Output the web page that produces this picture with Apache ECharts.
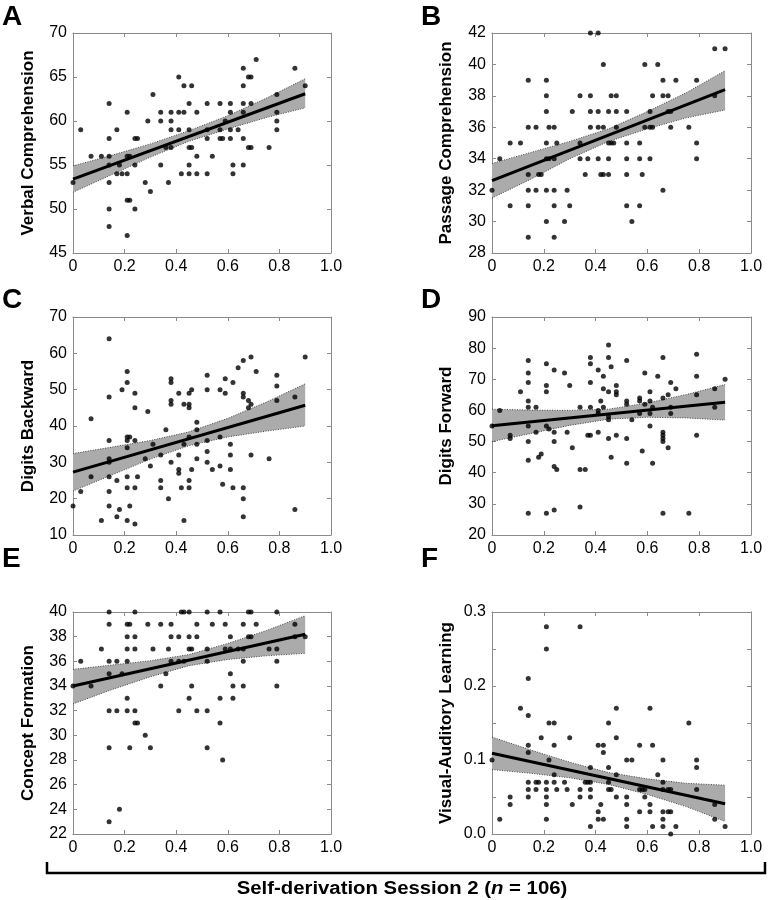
<!DOCTYPE html>
<html><head><meta charset="utf-8">
<script src="https://cdn.jsdelivr.net/npm/echarts@6/dist/echarts.min.js"></script>
<style>html,body{margin:0;padding:0;background:#fff}#c{width:770px;height:900px}</style>
</head><body><div id="c"></div>
<script>
// ---------- data ----------
const xTickValues = [0, 0.2, 0.4, 0.6, 0.8, 1.0];
const bandX = [0, 0.15, 0.3, 0.45, 0.6, 0.75, 0.9];
const fitX = [0, 0.9];

const ptsA = [
[0.00,53],[0.03,59],[0.07,56],[0.11,56],[0.14,62],[0.14,58],[0.14,56],[0.14,55],[0.14,53],[0.14,50],[0.14,48],
[0.17,59],[0.17,54],[0.18,55],[0.19,54],[0.21,61],[0.21,56],[0.21,54],[0.21,51],[0.22,51],[0.21,47],[0.22,56],
[0.24,58],[0.25,58],[0.24,55],[0.24,50],[0.28,53],[0.29,60],[0.30,52],[0.31,63],[0.34,61],[0.34,60],[0.34,55],
[0.36,57],[0.37,53],[0.38,61],[0.38,60],[0.38,59],[0.38,57],[0.41,65],[0.41,61],[0.41,59],[0.42,54],[0.43,64],[0.43,61],
[0.45,62],[0.45,59],[0.45,57],[0.45,55],[0.45,54],[0.46,64],[0.46,57],[0.48,61],[0.48,56],[0.48,54],
[0.52,62],[0.52,59],[0.52,58],[0.52,54],[0.54,56],[0.57,62],[0.57,59],[0.57,58],[0.58,58],[0.59,60],
[0.61,62],[0.61,61],[0.61,59],[0.61,58],[0.62,55],[0.62,54],[0.64,59],
[0.66,66],[0.66,64],[0.66,62],[0.66,61],[0.66,58],[0.66,55],[0.68,65],[0.69,65],[0.69,62],[0.68,57],[0.69,57],
[0.71,67],[0.76,57],[0.79,63],[0.79,61],[0.79,60],[0.79,59],[0.86,66],[0.90,64]
];
const fitA = [53.4, 63.1];
const upperA = [54.9, 56.1, 57.4, 58.9, 60.6, 62.6, 64.8];
const lowerA = [51.9, 53.9, 55.9, 57.7, 59.1, 60.4, 61.5];

const ptsB = [
[0.00,32],[0.03,34],[0.07,35],[0.07,31],[0.11,35],[0.14,39],[0.14,36],[0.14,33],[0.14,32],[0.14,31],[0.14,29],
[0.17,36],[0.17,32],[0.18,33],[0.19,33],[0.21,39],[0.21,38],[0.21,37],[0.21,35],[0.21,34],[0.21,32],[0.21,30],
[0.22,36],[0.22,34],[0.24,36],[0.24,34],[0.24,32],[0.24,31],[0.24,29],[0.25,35],[0.28,30],[0.29,32],[0.30,31],
[0.31,37],[0.34,38],[0.34,35],[0.34,34],[0.36,33],[0.37,34],[0.38,42],[0.38,38],[0.38,37],[0.38,36],
[0.41,42],[0.41,37],[0.41,36],[0.41,34],[0.42,33],[0.43,40],[0.43,36],[0.43,33],
[0.45,37],[0.45,35],[0.45,34],[0.45,33],[0.46,38],[0.46,35],[0.47,35],[0.48,38],[0.48,37],[0.48,36],
[0.52,37],[0.52,35],[0.52,34],[0.52,33],[0.52,31],[0.54,30],[0.57,35],[0.57,34],[0.57,31],[0.58,33],
[0.59,40],[0.59,36],[0.61,37],[0.61,36],[0.61,34],[0.62,38],[0.62,36],[0.64,40],
[0.66,39],[0.66,38],[0.66,32],[0.68,38],[0.68,37],[0.69,37],[0.69,36],[0.71,39],
[0.76,36],[0.79,39],[0.79,35],[0.79,34],[0.86,41],[0.86,38],[0.90,41]
];
const fitB = [32.6, 38.4];
const upperB = [33.7, 34.4, 35.1, 35.9, 37.0, 38.2, 39.6];
const lowerB = [31.5, 32.7, 34.0, 35.1, 35.9, 36.6, 37.1];

const ptsC = [
[0.00,18],[0.03,22],[0.07,42],[0.07,26],[0.11,14],
[0.14,64],[0.14,48],[0.14,36],[0.14,31],[0.14,30],[0.14,26],[0.14,22],[0.14,18],
[0.17,25],[0.17,15],[0.18,17],[0.19,50],
[0.21,55],[0.21,52],[0.21,37],[0.22,37],[0.21,36],[0.21,34],[0.21,26],[0.21,23],[0.21,14],[0.22,18],
[0.24,49],[0.24,45],[0.24,36],[0.24,23],[0.24,13],[0.25,26],
[0.28,31],[0.29,44],[0.30,29],[0.31,35],
[0.34,32],[0.34,25],[0.34,23],[0.36,39],[0.37,20],
[0.38,53],[0.38,52],[0.38,47],[0.38,46],[0.38,30],
[0.41,49],[0.41,32],[0.41,28],[0.41,27],[0.42,23],[0.43,46],[0.43,35],[0.43,14],
[0.45,49],[0.45,46],[0.45,45],[0.45,37],[0.45,25],[0.45,23],[0.46,50],[0.46,28],
[0.48,41],[0.48,39],[0.48,35],[0.48,31],
[0.52,54],[0.52,50],[0.52,36],[0.52,33],[0.52,30],[0.54,28],
[0.57,50],[0.57,37],[0.57,29],[0.58,24],[0.59,53],[0.59,49],
[0.61,35],[0.61,32],[0.61,28],[0.62,52],[0.62,23],[0.64,56],
[0.66,58],[0.66,49],[0.66,48],[0.66,23],[0.66,20],[0.66,15],
[0.68,47],[0.68,45],[0.69,46],[0.69,59],[0.69,32],[0.71,55],
[0.76,31],[0.79,54],[0.79,51],[0.79,47],[0.86,48],[0.86,17],[0.90,59]
];
const fitC = [27.3, 45.7];
const upperC = [32.4, 34.2, 36.0, 38.4, 42.1, 46.6, 51.6];
const lowerC = [22.1, 26.5, 30.9, 34.6, 37.0, 38.6, 40.0];

const ptsD = [
[0.00,55],[0.03,60],[0.07,52],[0.07,51],[0.11,66],
[0.14,76],[0.14,72],[0.14,69],[0.14,63],[0.14,61],[0.14,55],[0.14,50],[0.14,44],[0.14,27],
[0.17,61],[0.17,53],[0.18,45],[0.19,46],
[0.21,75],[0.21,68],[0.21,66],[0.21,55],[0.22,54],[0.21,27],
[0.24,73],[0.24,53],[0.24,50],[0.24,42],[0.25,41],[0.24,28],
[0.28,72],[0.29,53],[0.30,68],[0.31,48],
[0.34,61],[0.34,41],[0.36,41],[0.34,29],[0.37,52],[0.38,52],
[0.38,77],[0.38,75],[0.38,69],[0.38,61],
[0.41,73],[0.41,60],[0.41,59],[0.41,53],[0.42,63],[0.43,71],[0.43,67],[0.43,61],
[0.45,81],[0.45,77],[0.45,66],[0.45,58],[0.45,57],[0.45,51],[0.46,74],[0.46,45],
[0.48,68],[0.48,66],[0.48,65],[0.48,52],
[0.52,76],[0.52,63],[0.52,62],[0.52,51],[0.52,43],[0.54,57],
[0.57,64],[0.57,63],[0.57,59],[0.58,47],[0.59,72],[0.59,62],
[0.61,66],[0.61,63],[0.61,59],[0.61,55],[0.62,61],[0.62,43],[0.64,71],
[0.66,77],[0.66,64],[0.66,53],[0.66,52],[0.66,51],[0.66,50],[0.66,27],
[0.68,65],[0.68,48],[0.69,69],[0.69,61],[0.69,59],[0.71,67],
[0.76,27],[0.79,78],[0.79,71],[0.79,65],[0.79,52],[0.86,67],[0.86,61],[0.90,70]
];
const fitD = [55.1, 62.6];
const upperD = [60.4, 60.1, 60.0, 60.4, 62.4, 65.1, 68.3];
const lowerD = [50.0, 52.6, 55.2, 57.2, 57.8, 57.6, 56.9];

const ptsE = [
[0.00,34],[0.03,36],[0.07,34],[0.11,37],
[0.14,40],[0.14,39],[0.14,36],[0.14,35],[0.14,32],[0.14,29],[0.14,23],
[0.17,36],[0.17,32],[0.18,24],[0.19,35],
[0.21,39],[0.22,39],[0.21,38],[0.21,37],[0.21,36],[0.21,33],[0.21,32],[0.22,29],
[0.24,40],[0.24,38],[0.24,37],[0.24,32],[0.24,31],[0.25,31],
[0.28,30],[0.29,39],[0.30,29],[0.31,37],
[0.34,39],[0.34,34],[0.36,35],[0.37,37],[0.38,39],[0.38,38],[0.38,36],
[0.41,38],[0.41,36],[0.41,32],[0.42,40],[0.43,40],[0.43,36],
[0.45,40],[0.45,38],[0.45,37],[0.46,37],[0.45,33],[0.46,34],
[0.48,39],[0.48,38],[0.48,32],
[0.52,40],[0.52,37],[0.52,36],[0.52,32],[0.52,29],[0.54,39],
[0.57,40],[0.57,33],[0.57,31],[0.58,28],[0.59,39],[0.59,37],
[0.61,38],[0.61,37],[0.61,35],[0.62,34],[0.62,33],[0.64,37],
[0.66,39],[0.66,37],[0.66,36],[0.66,34],[0.68,40],[0.69,40],[0.68,38],[0.69,38],[0.71,39],
[0.76,37],[0.79,40],[0.79,37],[0.79,36],[0.79,34],[0.86,39],[0.86,38],[0.90,38]
];
const fitE = [34.0, 38.2];
const upperE = [35.35, 35.7, 36.05, 36.55, 37.45, 38.5, 39.7];
const lowerE = [32.55, 33.7, 34.75, 35.65, 36.15, 36.45, 36.65];

const ptsF = [
[0.00,0.10],[0.03,0.02],[0.07,0.05],[0.07,0.04],[0.11,0.17],
[0.14,0.21],[0.14,0.16],[0.14,0.12],[0.14,0.11],[0.14,0.07],[0.14,0.06],[0.14,0.05],
[0.17,0.07],[0.18,0.07],[0.17,0.06],[0.19,0.13],
[0.21,0.28],[0.21,0.25],[0.21,0.07],[0.21,0.06],[0.21,0.05],[0.21,0.04],[0.21,0.02],
[0.22,0.15],[0.22,0.10],[0.24,0.15],[0.24,0.12],[0.24,0.08],[0.24,0.07],[0.25,0.06],
[0.28,0.07],[0.29,0.06],[0.30,0.13],[0.31,0.04],
[0.34,0.28],[0.34,0.06],[0.34,0.05],[0.36,0.07],[0.37,0.07],
[0.38,0.09],[0.38,0.07],[0.38,0.06],[0.38,0.05],[0.38,0.01],
[0.41,0.12],[0.41,0.03],[0.41,0.02],[0.42,0.04],[0.43,0.12],[0.43,0.11],[0.43,0.02],
[0.45,0.15],[0.45,0.09],[0.45,0.07],[0.45,0.06],[0.46,0.06],
[0.48,0.17],[0.48,0.13],[0.48,0.08],[0.48,0.05],
[0.52,0.10],[0.54,0.10],[0.52,0.05],[0.52,0.04],[0.52,0.02],[0.52,0.01],
[0.57,0.12],[0.57,0.06],[0.58,0.06],[0.59,0.06],[0.57,0.03],[0.59,0.05],
[0.61,0.17],[0.61,0.04],[0.61,0.03],[0.62,0.12],[0.62,0.01],[0.64,0.08],
[0.66,0.10],[0.66,0.07],[0.66,0.06],[0.66,0.03],[0.66,0.02],[0.66,0.01],
[0.68,0.06],[0.69,0.06],[0.68,0.03],[0.69,0.03],[0.69,0.00],[0.71,0.01],
[0.76,0.15],[0.79,0.10],[0.79,0.09],[0.79,0.06],[0.86,0.04],[0.86,0.02],[0.90,0.01]
];
const fitF = [0.109, 0.041];
const upperF = [0.131, 0.1135, 0.097, 0.083, 0.0745, 0.0685, 0.066];
const lowerF = [0.087, 0.082, 0.076, 0.067, 0.0535, 0.037, 0.017];

const panelLetters = ['A','B','C','D','E','F'];
const yNames = ['Verbal Comprehension','Passage Comprehension','Digits Backward','Digits Forward','Concept Formation','Visual-Auditory Learning'];
const yMin = [45, 28, 10, 20, 22, 0];
const yMax = [70, 42, 70, 90, 40, 0.3];
const yStep = [5, 2, 10, 10, 2, 0.05];
const footerText = ['Self-derivation Session 2 (', 'n', ' = 106)'];

// ---------- layout ----------
const FONT = 'Liberation Sans, Arial, Helvetica, sans-serif';
const colLeft = [73, 492], colWidth = [258, 259];
const rowTop = [33, 317, 612], rowHeight = [220, 218, 222];
const letterPos = [[2,3],[421,3],[2,286],[421,286],[2,545],[421,545]];
const AX = '#8a8a8a';

const panels = [
  {pts: ptsA, fit: fitA, up: upperA, lo: lowerA},
  {pts: ptsB, fit: fitB, up: upperB, lo: lowerB},
  {pts: ptsC, fit: fitC, up: upperC, lo: lowerC},
  {pts: ptsD, fit: fitD, up: upperD, lo: lowerD},
  {pts: ptsE, fit: fitE, up: upperE, lo: lowerE},
  {pts: ptsF, fit: fitF, up: upperF, lo: lowerF}
];

const grid = [], xAxis = [], yAxis = [], series = [];
panels.forEach((p, i) => {
  const col = i % 2, row = Math.floor(i / 2);
  grid.push({left: colLeft[col], top: rowTop[row], width: colWidth[col], height: rowHeight[row], containLabel: false});
  const tick = {show: true, inside: true, length: 4, lineStyle: {color: AX}};
  const line = {show: true, onZero: false, lineStyle: {color: AX, width: 1}};
  xAxis.push({type: 'value', gridIndex: i, min: 0, max: 1, interval: 0.2, position: 'bottom',
    axisLine: line, axisTick: tick, splitLine: {show: false},
    axisLabel: {color: '#000', fontSize: 16, fontFamily: FONT, margin: 6,
      formatter: v => v === 0 ? '0' : v.toFixed(1)}});
  xAxis.push({type: 'value', gridIndex: i, min: 0, max: 1, interval: 0.2, position: 'top',
    axisLine: line, axisTick: tick, splitLine: {show: false}, axisLabel: {show: false}});
  const isF = i === 5;
  yAxis.push({type: 'value', gridIndex: i, min: yMin[i], max: yMax[i], interval: yStep[i], position: 'left',
    axisLine: line, axisTick: tick, splitLine: {show: false},
    name: yNames[i], nameLocation: 'middle', nameRotate: 90, nameGap: col === 0 ? 36 : 37,
    nameTextStyle: {color: '#000', fontSize: 17, fontWeight: 'bold', fontFamily: FONT},
    axisLabel: {color: '#000', fontSize: 16, fontFamily: FONT, margin: 6,
      formatter: v => isF ? (Math.round(v * 100) % 10 === 0 ? v.toFixed(1) : '') : String(Math.round(v))}});
  yAxis.push({type: 'value', gridIndex: i, min: yMin[i], max: yMax[i], interval: yStep[i], position: 'right',
    axisLine: line, axisTick: tick, splitLine: {show: false}, axisLabel: {show: false}});

  const xi = 2 * i, yi = 2 * i;
  // confidence band drawn as a polygon through the axis scales
  series.push({type: 'custom', xAxisIndex: xi, yAxisIndex: yi, z: 1, silent: true,
    data: [[bandX[3], p.up[3]]],
    renderItem: (params, api) => {
      const up = bandX.map((x, k) => api.coord([x, p.up[k]]));
      const lo = bandX.map((x, k) => api.coord([x, p.lo[k]]));
      const dot = {stroke: '#444', lineWidth: 1, lineDash: [1, 1.5], fill: null};
      return {type: 'group', children: [
        {type: 'polygon', shape: {points: up.concat(lo.slice().reverse())}, style: {fill: '#ababab', stroke: null}},
        {type: 'polyline', shape: {points: up}, style: dot},
        {type: 'polyline', shape: {points: lo}, style: dot}
      ]};
    }});
  series.push({type: 'line', xAxisIndex: xi, yAxisIndex: yi, symbol: 'none',
    data: fitX.map((x, k) => [x, p.fit[k]]), lineStyle: {color: '#000', width: 3}, z: 2, silent: true});
  series.push({type: 'scatter', xAxisIndex: xi, yAxisIndex: yi, symbolSize: 5,
    itemStyle: {color: '#000'}, data: p.pts, z: 3, silent: true});
});

const graphic = panelLetters.map((t, i) => ({
  type: 'text', left: letterPos[i][0], top: letterPos[i][1],
  style: {text: t, fontSize: 28, fontWeight: 'bold', fontFamily: FONT, fill: '#000'}
}));
graphic.push({type: 'polyline', shape: {points: [[47, 862], [47, 873], [765, 873], [765, 862]]},
  style: {stroke: '#000', lineWidth: 2.5, fill: null}});
graphic.push({type: 'text', x: 402, y: 889, scaleX: 1.13,
  style: {rich: {b: {fontSize: 18, fontWeight: 'bold', fontFamily: FONT, fill: '#000'},
                 i: {fontSize: 18, fontWeight: 'bold', fontStyle: 'italic', fontFamily: FONT, fill: '#000'}},
    text: '{b|' + footerText[0] + '}{i|' + footerText[1] + '}{b|' + footerText[2] + '}',
    align: 'center', verticalAlign: 'middle'}});

const chart = echarts.init(document.getElementById('c'), null, {renderer: 'canvas'});
chart.setOption({animation: false, backgroundColor: '#fff', grid, xAxis, yAxis, series, graphic});
</script></body></html>
